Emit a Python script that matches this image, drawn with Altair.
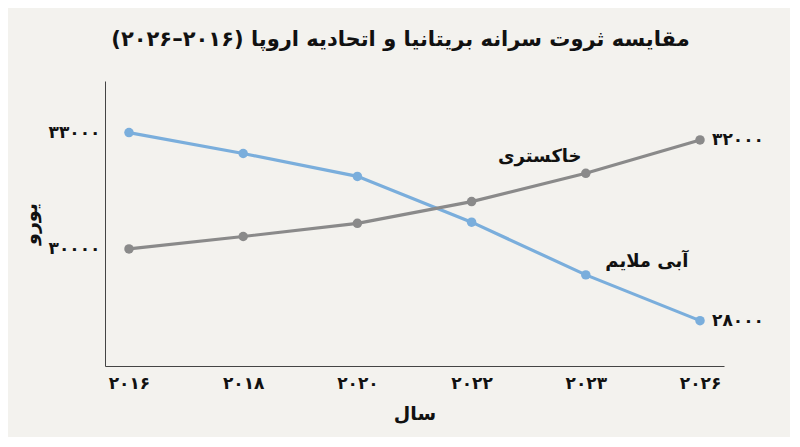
import altair as alt
import pandas as pd

years = ["۲۰۱۶", "۲۰۱۸", "۲۰۲۰", "۲۰۲۲", "۲۰۲۳", "۲۰۲۶"]
blue_values = [33000, 32460, 31870, 30690, 29330, 28150]
gray_values = [30000, 30320, 30660, 31220, 31950, 32810]
series_names = ["آبی ملایم", "خاکستری"]
series_colors = ["#7aaedc", "#8a8a8a"]
end_labels = ["۲۸۰۰۰", "۳۲۰۰۰"]
y_tick_values = [30000, 33000]
y_tick_labels = ["۳۰۰۰۰", "۳۳۰۰۰"]
title_text = "مقایسه ثروت سرانه بریتانیا و اتحادیه اروپا (۲۰۱۶–۲۰۲۶)\u200f"
x_title = "سال"
y_title = "یورو"

FONT = "DejaVu Sans"

rows = []
for name, vals in zip(series_names, [blue_values, gray_values]):
    for yr, v in zip(years, vals):
        rows.append({"year": yr, "value": v, "series": name})
df = pd.DataFrame(rows)

end_df = pd.DataFrame({
    "year": [years[-1], years[-1]],
    "value": [blue_values[-1], gray_values[-1]],
    "label": end_labels,
})
gray_lab = pd.DataFrame({"year": [years[4]], "value": [gray_values[4]], "label": [series_names[1]]})
blue_lab = pd.DataFrame({"year": [years[4]], "value": [blue_values[4]], "label": [series_names[0]]})

label_expr = "''"
for v, l in zip(y_tick_values, y_tick_labels):
    label_expr = f"datum.value == {v} ? '{l}' : ({label_expr})"

x_enc = alt.X("year:O", sort=years, title=x_title,
              scale=alt.Scale(padding=0.21),
              axis=alt.Axis(labelAngle=0, labelFontSize=17, labelFontWeight="bold",
                            labelPadding=9, titleFontSize=19, titleFontWeight="bold",
                            titlePadding=13, ticks=False, domainColor="#444"))
y_enc = alt.Y("value:Q", title=y_title,
              scale=alt.Scale(domain=[26980, 34330], nice=False, zero=False),
              axis=alt.Axis(values=y_tick_values, labelExpr=label_expr, labelFontSize=17,
                            labelFontWeight="bold", labelPadding=5, titleFontSize=19,
                            titleFontWeight="bold", titlePadding=8, ticks=False,
                            grid=False, domainColor="#444"))

color = alt.Color("series:N", scale=alt.Scale(domain=series_names, range=series_colors), legend=None)

base = alt.Chart(df).encode(x=x_enc, y=y_enc, color=color)
lines = base.mark_line(strokeWidth=3.2)
points = base.mark_point(filled=True, size=90, opacity=1)

ends = alt.Chart(end_df).mark_text(align="left", dx=12, fontSize=17, fontWeight="bold",
                                   color="#111", font=FONT).encode(
    x=alt.X("year:O", sort=years), y="value:Q", text="label:N")
glab = alt.Chart(gray_lab).mark_text(align="center", dx=-46, dy=-16, fontSize=18,
                                     fontWeight="bold", color="#111", font=FONT).encode(
    x=alt.X("year:O", sort=years), y="value:Q", text="label:N")
blab = alt.Chart(blue_lab).mark_text(align="center", dx=61, dy=-13, fontSize=18,
                                     fontWeight="bold", color="#111", font=FONT).encode(
    x=alt.X("year:O", sort=years), y="value:Q", text="label:N")

chart = alt.layer(lines, points, ends, glab, blab).properties(
    width=619, height=285,
    title=alt.TitleParams(title_text, fontSize=21, fontWeight="bold", font=FONT,
                          anchor="middle", dx=-14, offset=31, color="#111"),
    autosize=alt.AutoSizeParams(type="none"),
    padding={"left": 97, "top": 73, "right": 66, "bottom": 71},
).configure(
    background="#f3f2ee", font=FONT
).configure_view(stroke=None).configure_axis(
    labelColor="#111", titleColor="#111", grid=False
)

chart.save("out.html", embed_options={"renderer": "svg", "actions": False})
